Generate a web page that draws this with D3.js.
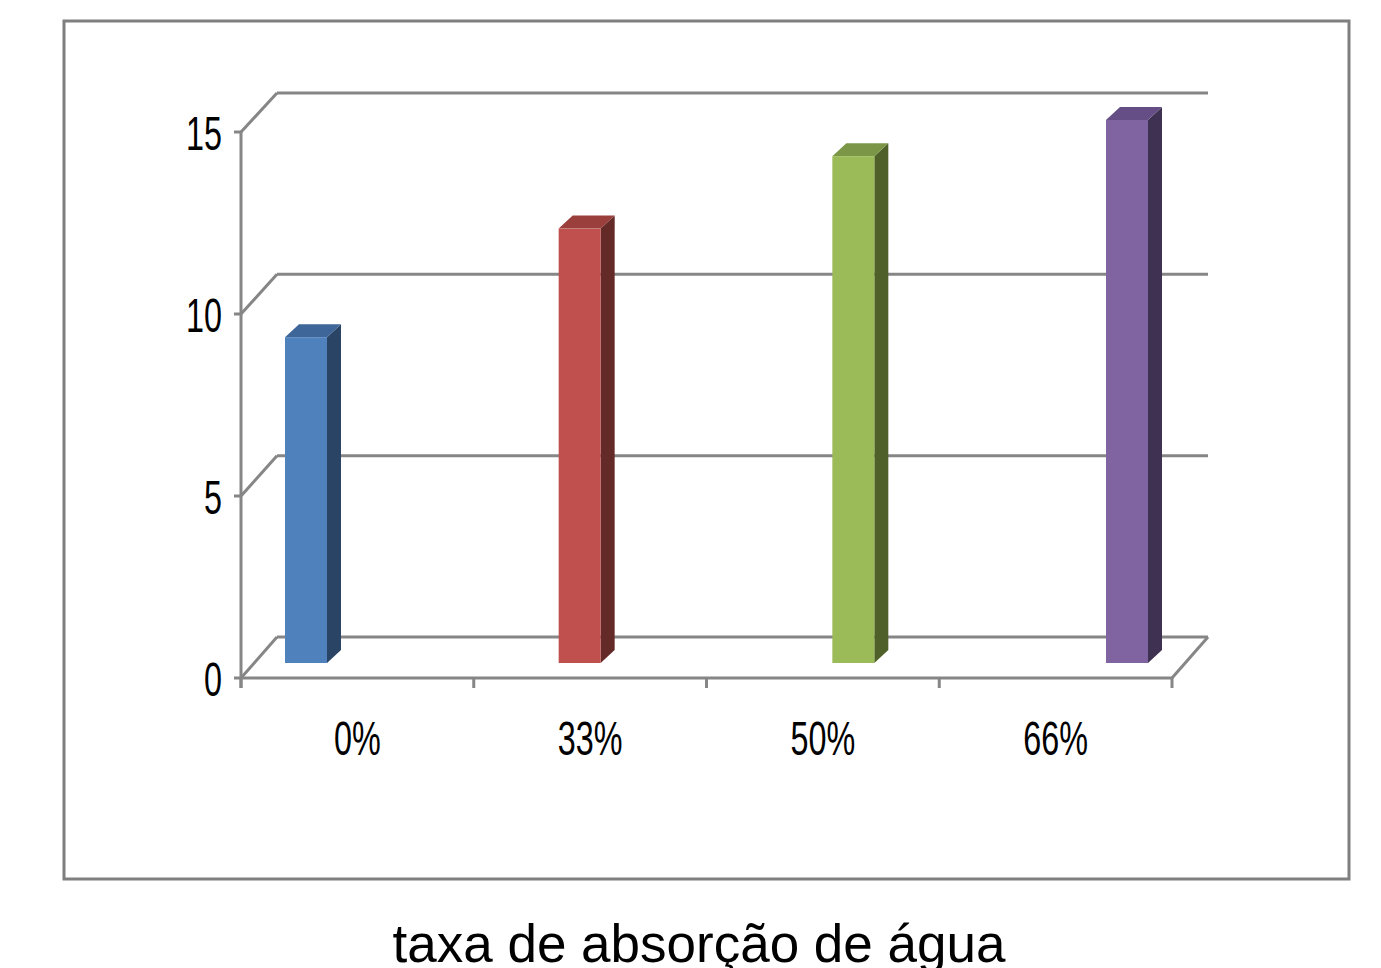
<!DOCTYPE html>
<html>
<head>
<meta charset="utf-8">
<script src="https://cdn.jsdelivr.net/npm/d3@7"></script>
<style>
  body { margin: 0; background: #fff; }
  svg { display: block; }
</style>
</head>
<body>
<svg width="1381" height="968"></svg>
<script>
// data
var categories = ["0%", "33%", "50%", "66%"];
var values = [9, 12, 14, 15];
var yTicks = [0, 5, 10, 15];
var barColors = ["#4F81BD", "#C0504D", "#9BBB59", "#8064A2"];
var sideColors = ["#2A4466", "#632A28", "#4F6128", "#3F3152"];
var topColors = ["#3E6699", "#9A3F3C", "#7A9646", "#654E85"];
var axisTitle = "taxa de absorção de água";

var svg = d3.select("svg");
var grey = "#868686";

// depth of the floor (front edge -> back wall)
var dx = 36, dy = -41;

var xFront = d3.scaleBand().domain(categories).range([241, 1172]);
var yFront = d3.scaleLinear().domain([0, 15]).range([678, 132]);
var yBack = d3.scaleLinear().domain([0, 15]).range([637, 93]);
// bars stand in the middle of the floor depth
var xBar = d3.scalePoint().domain(categories).range([306, 1127]);
var yBar = d3.scaleLinear().domain([0, 15]).range([663, 120]);
var barW = 42, bdx = 14, bdy = -13;

// outer frame
svg.append("rect")
    .attr("x", 64).attr("y", 21)
    .attr("width", 1285).attr("height", 858)
    .attr("fill", "none").attr("stroke", "#7f7f7f").attr("stroke-width", 3);

var grid = svg.append("g")
    .attr("stroke", grey).attr("stroke-width", 3).attr("fill", "none");

// back wall gridlines and left diagonals
yTicks.forEach(function(v) {
    grid.append("line")
        .attr("x1", 241 + dx).attr("y1", yBack(v))
        .attr("x2", 1172 + dx).attr("y2", yBack(v));
    grid.append("line")
        .attr("x1", 241).attr("y1", yFront(v))
        .attr("x2", 241 + dx).attr("y2", yBack(v));
    // tick on the front axis
    grid.append("line")
        .attr("x1", 234).attr("y1", yFront(v))
        .attr("x2", 241).attr("y2", yFront(v));
});

// floor right edge
grid.append("line")
    .attr("x1", 1172).attr("y1", yFront(0))
    .attr("x2", 1172 + dx).attr("y2", yBack(0));

// front value axis
grid.append("line")
    .attr("x1", 241).attr("y1", yFront(15))
    .attr("x2", 241).attr("y2", yFront(0) + 10);

// front category axis + ticks
grid.append("line")
    .attr("x1", 241).attr("y1", yFront(0))
    .attr("x2", 1172).attr("y2", yFront(0));
var edges = categories.map(function(c) { return xFront(c); }).concat([1172]);
edges.forEach(function(x) {
    grid.append("line")
        .attr("x1", x).attr("y1", yFront(0))
        .attr("x2", x).attr("y2", yFront(0) + 10);
});

// 3d bars
var bars = svg.append("g").selectAll("g")
    .data(values)
    .enter().append("g");

bars.each(function(v, i) {
    var g = d3.select(this);
    var x0 = xBar(categories[i]) - barW / 2, x1 = x0 + barW;
    var yt = yBar(v), yb = yBar(0);
    // side face
    g.append("path")
        .attr("d", "M" + x1 + "," + yt + "L" + (x1 + bdx) + "," + (yt + bdy) +
            "L" + (x1 + bdx) + "," + (yb + bdy) + "L" + x1 + "," + yb + "Z")
        .attr("fill", sideColors[i]);
    // top face
    g.append("path")
        .attr("d", "M" + x0 + "," + yt + "L" + (x0 + bdx) + "," + (yt + bdy) +
            "L" + (x1 + bdx) + "," + (yt + bdy) + "L" + x1 + "," + yt + "Z")
        .attr("fill", topColors[i]);
    // front face
    g.append("rect")
        .attr("x", x0).attr("y", yt)
        .attr("width", barW).attr("height", yb - yt)
        .attr("fill", barColors[i]);
});

// value labels (narrow font)
svg.append("g").selectAll("text")
    .data(yTicks)
    .enter().append("text")
    .attr("transform", function(d) {
        return "translate(222," + (yFront(d) + 18) + ") scale(0.66,1)";
    })
    .attr("text-anchor", "end")
    .attr("font-family", "Liberation Sans, Arial, sans-serif")
    .attr("font-size", 49)
    .attr("fill", "#000")
    .text(function(d) { return d; });

// category labels
svg.append("g").selectAll("text")
    .data(categories)
    .enter().append("text")
    .attr("transform", function(d) {
        return "translate(" + (xFront(d) + xFront.bandwidth() / 2) + ",755) scale(0.66,1)";
    })
    .attr("text-anchor", "middle")
    .attr("font-family", "Liberation Sans, Arial, sans-serif")
    .attr("font-size", 49)
    .attr("fill", "#000")
    .text(function(d) { return d; });

// axis title
svg.append("text")
    .attr("x", 699).attr("y", 962)
    .attr("text-anchor", "middle")
    .attr("font-family", "Liberation Sans, Arial, sans-serif")
    .attr("font-size", 53)
    .attr("fill", "#000")
    .text(axisTitle);
</script>
</body>
</html>
